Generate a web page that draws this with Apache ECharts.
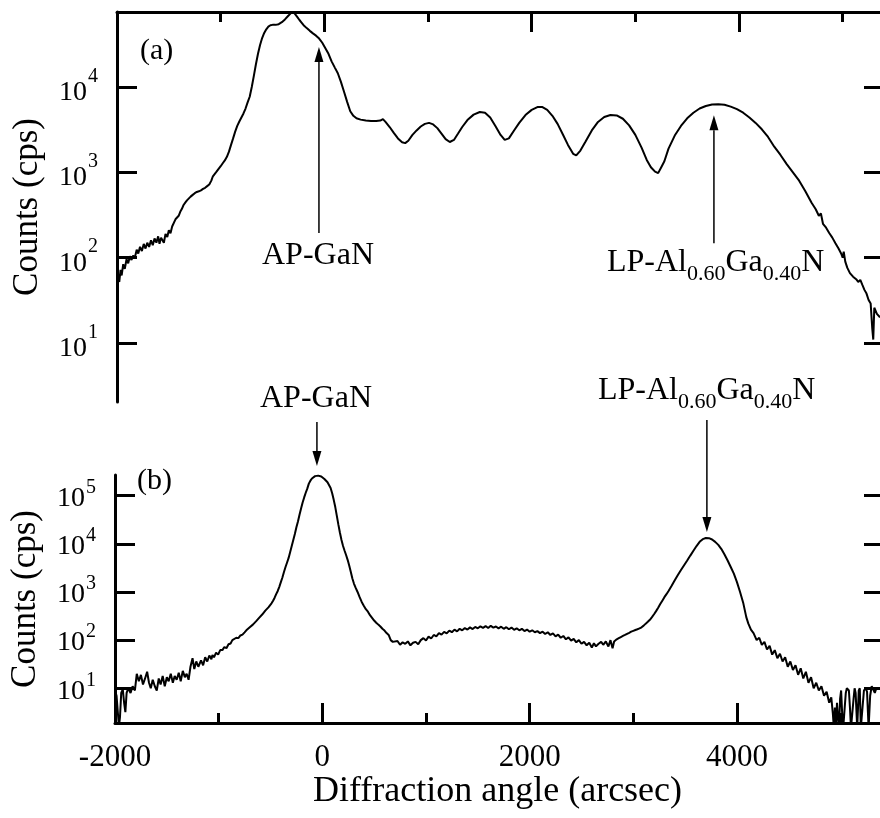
<!DOCTYPE html>
<html><head><meta charset="utf-8">
<script src="https://cdn.jsdelivr.net/npm/echarts@6/dist/echarts.min.js"></script>
<style>html,body{margin:0;padding:0;background:#fff}#chart{width:880px;height:818px}</style>
</head><body><div id="chart"></div>
<script>
const FONT = '"Liberation Serif","Times New Roman",serif';

// Panel (a): [diffraction angle (arcsec), counts (cps)]
const scanA = [
[-2000,45],[-1990,60],[-1978,52],[-1966,72],[-1955,62],[-1940,84],[-1925,74],[-1908,96],[-1892,86],[-1876,104],
[-1860,94],[-1845,106],[-1828,100],[-1810,124],[-1795,112],[-1778,134],[-1760,120],[-1742,145],[-1725,128],[-1708,150],
[-1690,134],[-1672,160],[-1655,140],[-1638,168],[-1620,150],[-1603,178],[-1590,146],[-1575,172],[-1562,180],[-1548,150],
[-1532,190],[-1515,175],[-1500,210],[-1484,194],[-1468,232],[-1452,222],[-1436,282],[-1420,270],[-1405,310],
[-1390,345],[-1375,372],[-1358,415],[-1340,445],[-1325,470],[-1310,490],[-1290,520],[-1270,545],[-1250,570],
[-1230,590],[-1210,600],[-1190,615],[-1170,640],[-1150,660],[-1130,690],[-1110,720],[-1090,800],[-1075,900],[-1060,940],
[-1040,1020],[-1020,1100],[-1000,1180],[-980,1280],[-960,1380],[-940,1520],[-920,1750],[-900,2100],[-880,2500],[-860,3000],
[-840,3500],[-820,3950],[-800,4400],[-780,4900],[-760,5600],[-740,6600],[-720,7700],[-700,10000],[-680,13500],[-660,18500],
[-640,24500],[-620,31000],[-600,37500],[-580,43000],[-560,47500],[-540,51000],[-520,53000],[-500,53500],[-470,53500],[-440,54500],
[-410,57500],[-380,62000],[-350,68000],[-320,74000],[-300,76000],[-280,71000],[-260,66000],[-240,61000],[-220,57000],[-200,53000],
[-170,49000],[-140,45500],[-110,42500],[-80,40000],[-50,37000],[-20,33000],[10,28500],[40,24500],[70,20000],[100,17000],
[130,14500],[160,11500],[190,8800],[220,6700],[250,5200],[280,4600],[310,4300],[350,4150],[400,4050],[450,4000],
[500,4000],[540,4050],[565,4200],[590,3900],[630,3400],[670,2900],[710,2500],[750,2250],[780,2200],[810,2350],
[850,2750],[890,3100],[930,3450],[970,3700],[1010,3800],[1050,3650],[1090,3300],[1130,2850],[1170,2450],[1210,2270],
[1250,2400],[1290,2850],[1330,3400],[1380,4100],[1440,4750],[1500,5100],[1550,5000],[1600,4400],[1650,3500],[1700,2750],
[1740,2400],[1780,2500],[1830,3100],[1880,3800],[1940,4700],[2000,5400],[2060,5850],[2100,5850],[2150,5400],[2200,4600],
[2250,3700],[2300,2800],[2350,2100],[2400,1650],[2430,1580],[2470,1800],[2520,2300],[2580,3100],[2640,3900],[2700,4450],
[2760,4700],[2820,4650],[2880,4250],[2940,3550],[3000,2750],[3060,1950],[3110,1400],[3150,1150],[3190,1020],[3220,980],
[3250,1150],[3280,1350],[3320,1900],[3380,2700],[3440,3500],[3500,4300],[3560,5000],[3620,5600],[3680,6000],[3740,6250],
[3800,6300],[3860,6200],[3920,5900],[3980,5500],[4040,5000],[4100,4400],[4160,3800],[4220,3200],[4280,2600],[4340,2000],
[4400,1600],[4460,1250],[4520,1000],[4580,800],[4640,600],[4700,440],[4740,370],[4770,310],[4790,330],[4810,250],
[4840,225],[4870,195],[4900,172],[4930,148],[4960,128],[4985,112],[5000,100],[5010,118],[5025,90],[5045,76],
[5070,66],[5100,60],[5130,56],[5150,52],[5170,55],[5190,48],[5210,42],[5230,38],[5250,32],[5270,29],
[5285,15],[5295,11],[5305,26],[5330,22],[5360,20]
];

// Panel (b): [diffraction angle (arcsec), counts (cps)]
const scanB = [
[-2000,9],[-1985,7],[-1972,3],[-1962,1.6],[-1952,2.5],[-1940,8],[-1925,9.5],[-1912,5],[-1900,3.2],[-1888,8],
[-1872,10],[-1850,8],[-1830,11],[-1808,9],[-1790,20],[-1770,14],[-1750,19],[-1730,12],[-1710,16],[-1690,22],
[-1672,13],[-1655,10],[-1636,15],[-1616,11],[-1597,9],[-1578,16],[-1560,12],[-1540,18],[-1520,11],[-1500,17],
[-1482,14],[-1462,20],[-1442,13],[-1424,18],[-1405,15],[-1385,21],[-1366,14],[-1346,23],[-1326,17],[-1309,20],
[-1290,15],[-1272,28],[-1252,42],[-1235,25],[-1216,36],[-1196,28],[-1184,30],[-1170,38],[-1150,30],[-1130,44],
[-1110,36],[-1090,48],[-1070,40],[-1060,49],[-1045,44],[-1025,55],[-1005,50],[-985,62],[-964,62],[-945,72],
[-925,68],[-905,82],[-885,85],[-868,100],[-850,98],[-830,112],[-810,110],[-790,125],[-770,130],[-750,145],
[-733,160],[-715,170],[-700,185],
[-685,195],[-670,210],[-655,230],[-640,245],[-625,265],[-610,290],[-595,310],[-580,340],[-565,370],[-550,410],
[-535,450],[-520,480],[-505,520],[-490,580],[-475,660],[-460,760],[-445,900],[-430,1050],[-415,1280],[-400,1600],
[-385,2000],[-370,2600],[-355,3300],[-340,4100],[-325,5100],[-310,6800],[-295,9000],[-280,12000],[-265,16000],[-250,22000],
[-235,29000],[-220,40000],[-205,54000],[-190,72000],[-175,92000],[-160,115000],[-145,140000],[-130,178000],[-115,205000],[-100,228000],
[-85,245000],[-70,255000],[-55,260000],[-40,261000],[-25,258000],[-10,250000],[5,238000],[20,222000],[35,205000],[50,190000],
[65,175000],[80,145000],[95,112000],[110,82000],[125,58000],[140,38000],[155,25000],[170,17000],[185,12000],[200,9000],
[215,7200],[230,5800],[245,4600],[260,3500],[275,2600],[290,1900],[305,1500],[320,1250],[340,1000],[360,780],
[380,620],[400,520],[420,440],[440,390],[460,330],[480,290],[500,255],[520,230],[540,210],[560,192],
[580,172],[600,158],[620,140],[640,128],[660,100],[680,92],
[695,84],[725,96],[750,80],[775,90],[800,84],[825,94],[850,78],[875,88],[900,92],[925,82],
[950,100],[975,110],[1000,98],[1025,118],[1050,108],[1075,128],[1100,120],[1125,140],[1150,130],[1175,148],
[1200,138],[1225,158],[1250,146],[1275,165],[1300,152],[1325,172],[1350,160],[1375,178],[1400,166],[1425,184],
[1450,170],[1475,188],[1500,176],[1525,194],[1550,180],[1575,196],[1600,178],[1625,198],[1650,182],[1675,192],
[1700,176],[1725,190],[1750,172],[1775,186],[1800,168],[1825,182],[1850,164],[1875,176],[1900,160],[1925,172],
[1950,154],[1975,166],[2000,150],[2025,160],[2050,146],[2075,154],[2100,140],[2125,150],[2150,134],[2175,146],
[2200,128],[2225,138],[2250,120],[2275,130],[2300,112],[2325,122],[2350,104],[2375,114],[2400,98],[2425,106],
[2450,90],[2475,100],[2500,84],[2525,92],[2550,78],[2575,88],[2600,70],[2620,86],[2640,74],[2665,84],
[2690,92],[2710,80],[2735,94],[2760,74],[2780,100],[2800,68],[2815,94],[2840,104],
[2860,110],[2880,116],[2900,122],[2920,128],[2940,135],[2960,142],[2980,150],[3000,156],[3020,162],[3040,168],
[3060,175],[3080,185],[3100,200],[3120,220],[3140,240],[3160,265],[3180,300],[3200,345],[3220,400],[3240,470],
[3260,560],[3280,660],[3300,780],[3320,900],[3340,1050],[3370,1350],[3400,1750],[3430,2250],[3460,2850],[3490,3600],
[3520,4500],[3550,5700],[3580,7200],[3610,9000],[3640,11000],[3670,12500],[3700,13200],[3730,13100],[3760,12300],[3790,11000],
[3820,9500],[3850,7800],[3880,6000],[3910,4500],[3940,3300],[3970,2400],[4000,1600],[4030,1000],[4060,600],[4090,300],
[4110,220],[4135,165],[4160,140],[4190,100],[4215,112],[4240,80],[4265,92],[4290,64],[4315,76],[4340,50],
[4365,62],[4390,42],[4415,52],[4440,36],[4465,44],[4490,28],[4515,36],[4540,24],[4565,30],[4590,19],
[4615,26],[4640,16],[4665,22],[4690,13],[4715,17],[4740,10],[4765,13],[4790,9],[4815,11],[4840,7],
[4865,8.5],[4890,5],[4910,6.5],[4925,3],[4935,1.5],[4945,4],[4955,1.5],[4965,5],[4975,2.5],[4985,1.5],
[4995,6],[5005,9],[5015,3],[5025,1.5],[5040,1.5],[5050,8],[5060,10],[5070,11],[5080,9],[5090,4],
[5100,1.5],[5115,1.5],[5125,6],[5135,10],[5145,8],[5160,1.5],[5175,9],[5185,10],[5195,1.5],[5210,1.5],
[5225,9],[5240,10],[5255,8.5],[5270,1.5],[5285,7],[5300,11],[5315,10],[5330,8],[5345,10],[5360,11],[5380,10]
];

const xMajorTicks = [0, 2000, 4000];
const xMinorTicks = [-1000, 1000, 3000, 5000];
const xTickLabels = [-2000, 0, 2000, 4000];
const yTicksA = [10, 100, 1000, 10000];
const yTicksB = [10, 100, 1000, 10000, 100000];
const xRangeA = [-2000, 5360];
const xRangeB = [-2000, 5380];
const yRangeA = [2.04, 75700];
const yRangeB = [1.9, 269000];
// arrows: [angle, tail counts, tip counts]
const arrowsA = [[-52, 195, 29500], [3758, 148, 4670]];
const arrowsB = [[-52, 3.39e6, 4.14e5], [3710, 3.73e6, 17600]];
const xTitle = 'Diffraction angle (arcsec)';
const yTitle = 'Counts (cps)';

const chart = echarts.init(document.getElementById('chart'), null, {renderer: 'canvas'});
const BLACK = '#000';

function xPair(grid, range, pos, showLabels) {
  return [
    {
      gridIndex: grid, type: 'value', position: pos, min: range[0], max: range[1],
      axisLine: {show: true, onZero: false, lineStyle: {color: BLACK, width: 3}},
      axisTick: {show: true, inside: true, length: 20, customValues: xMajorTicks, lineStyle: {color: BLACK, width: 3}},
      axisLabel: {show: showLabels, customValues: xTickLabels, formatter: v => String(v), margin: 19,
        fontSize: 31, fontFamily: FONT, color: BLACK},
      splitLine: {show: false},
      name: showLabels ? xTitle : '', nameLocation: 'middle', nameGap: 51,
      nameTextStyle: {fontSize: 36, fontFamily: FONT, color: BLACK}
    },
    {
      gridIndex: grid, type: 'value', position: pos, min: range[0], max: range[1],
      axisLine: {show: false, onZero: false},
      axisTick: {show: true, inside: true, length: 10, customValues: xMinorTicks, lineStyle: {color: BLACK, width: 3}},
      axisLabel: {show: false}, splitLine: {show: false}
    }
  ];
}

// base/superscript boxes share one height so the raise does not depend on token alignment
function yPair(grid, range, ticks, baseTopPad) {
  const boxH = 28 + baseTopPad;
  return [
    {
      gridIndex: grid, type: 'log', logBase: 10, position: 'left', min: range[0], max: range[1],
      axisLine: {show: true, onZero: false, lineStyle: {color: BLACK, width: 3}},
      axisTick: {show: true, inside: true, length: 20, customValues: ticks, lineStyle: {color: BLACK, width: 3}},
      axisLabel: {
        show: true, customValues: ticks, margin: 19,
        formatter: v => '{b|10}{s|' + Math.round(Math.log10(v)) + '}',
        rich: {
          b: {fontSize: 28, lineHeight: 28, fontFamily: FONT, color: BLACK, padding: [baseTopPad, 0, 0, 0]},
          s: {fontSize: 20, lineHeight: 18, fontFamily: FONT, color: BLACK, padding: [0, 0, boxH - 18, 1]}
        }
      },
      splitLine: {show: false},
      name: yTitle, nameLocation: 'middle', nameGap: 72, nameRotate: 90,
      nameTextStyle: {fontSize: 35, fontFamily: FONT, color: BLACK}
    },
    {
      gridIndex: grid, type: 'log', logBase: 10, position: 'right', min: range[0], max: range[1],
      axisLine: {show: false, onZero: false},
      axisTick: {show: true, inside: true, length: 16, customValues: ticks, lineStyle: {color: BLACK, width: 3}},
      axisLabel: {show: false}, splitLine: {show: false}
    }
  ];
}

const option = {
  animation: false,
  backgroundColor: '#fff',
  grid: [
    {left: 117, top: 12, width: 767, height: 390},
    {left: 115, top: 475, width: 769, height: 248}
  ],
  xAxis: [...xPair(0, xRangeA, 'top', false), ...xPair(1, xRangeB, 'bottom', true)],
  yAxis: [...yPair(0, yRangeA, yTicksA, 11), ...yPair(1, yRangeB, yTicksB, 6)],
  series: [
    {type: 'line', xAxisIndex: 0, yAxisIndex: 0, data: scanA, showSymbol: false, symbol: 'none',
     lineStyle: {color: BLACK, width: 2}, clip: true, silent: true},
    {type: 'line', xAxisIndex: 2, yAxisIndex: 2, data: scanB, showSymbol: false, symbol: 'none',
     lineStyle: {color: BLACK, width: 2}, clip: true, silent: true}
  ]
};
chart.setOption(option);

const graphics = [];
function addArrow(seriesIndex, a) {
  const tail = chart.convertToPixel({seriesIndex}, [a[0], a[1]]);
  const tip = chart.convertToPixel({seriesIndex}, [a[0], a[2]]);
  const dir = Math.sign(tip[1] - tail[1]);
  const headLen = 15, half = 4.5;
  graphics.push({type: 'line', silent: true,
    shape: {x1: tail[0], y1: tail[1], x2: tip[0], y2: tip[1] - dir * headLen},
    style: {stroke: BLACK, lineWidth: 1.5}});
  graphics.push({type: 'polygon', silent: true,
    shape: {points: [[tip[0], tip[1]], [tip[0] - half, tip[1] - dir * headLen], [tip[0] + half, tip[1] - dir * headLen]]},
    style: {fill: BLACK}});
}
arrowsA.forEach(a => addArrow(0, a));
arrowsB.forEach(a => addArrow(1, a));

function plainText(str, x, y, size, align) {
  graphics.push({type: 'text', x: x, y: y, silent: true,
    style: {text: str, fontSize: size, fontFamily: FONT, fill: BLACK, align: align || 'left', verticalAlign: 'top'}});
}
function lpText(x, y) {
  graphics.push({type: 'text', x: x, y: y, silent: true,
    style: {
      text: '{m|LP-Al}{s|0.60}{m|Ga}{s|0.40}{m|N}', align: 'left', verticalAlign: 'top',
      rich: {
        m: {fontSize: 32, lineHeight: 32, fontFamily: FONT, fill: BLACK, color: BLACK, padding: [0, 0, 6, 0]},
        s: {fontSize: 22, lineHeight: 22, fontFamily: FONT, fill: BLACK, color: BLACK, padding: [16, 0, 0, 0]}
      }
    }});
}
plainText('(a)', 140, 36, 30);
plainText('(b)', 137, 466, 30);
plainText('AP-GaN', 318, 240, 32, 'center');
plainText('AP-GaN', 316, 383, 32, 'center');
lpText(607, 250);
lpText(598, 378);

chart.setOption({graphic: graphics});
</script></body></html>
